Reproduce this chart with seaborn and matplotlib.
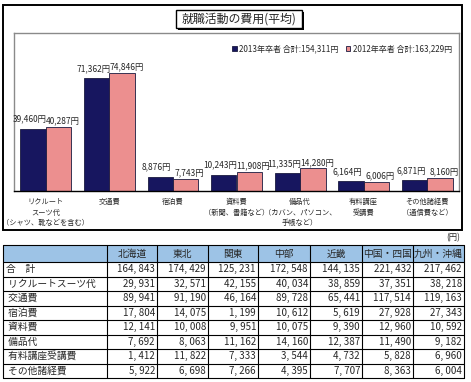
import numpy as np
import pandas as pd
import matplotlib
matplotlib.use("Agg")
import matplotlib.pyplot as plt
from matplotlib.patches import Rectangle
import seaborn as sns

# chart data
categories = [
    "リクルート\nスーツ代\n（シャツ、靴などを含む）",
    "交通費",
    "宿泊費",
    "資料費\n（新聞、書籍など）",
    "備品代\n（カバン、パソコン、\n手帳など）",
    "有料講座\n受講費",
    "その他諸経費\n（通信費など）",
]
years = ["2013年卒者 合計:154,311円", "2012年卒者 合計:163,229円"]
cost_2013 = [39460, 71362, 8876, 10243, 11335, 6164, 6871]
cost_2012 = [40287, 74846, 7743, 11908, 14280, 6006, 8160]

# table data
regions = ["北海道", "東北", "関東", "中部", "近畿", "中国・四国", "九州・沖縄"]
row_labels = ["合　計", " リクルートスーツ代", " 交通費", " 宿泊費", " 資料費",
              " 備品代", " 有料講座受講費", " その他諸経費"]
row_total = [164843, 174429, 125231, 172548, 144135, 221432, 217462]
row_suit = [29931, 32571, 42155, 40034, 38859, 37351, 38218]
row_transport = [89941, 91190, 46164, 89728, 65441, 117514, 119163]
row_lodging = [17804, 14075, 1199, 10612, 5619, 27928, 27343]
row_materials = [12141, 10008, 9951, 10075, 9390, 12960, 10592]
row_supplies = [7692, 8063, 11162, 14160, 12387, 11490, 9182]
row_courses = [1412, 11822, 7333, 3544, 4732, 5828, 6960]
row_other = [5922, 6698, 7266, 4395, 7707, 8363, 6004]
table_rows = [row_total, row_suit, row_transport, row_lodging,
              row_materials, row_supplies, row_courses, row_other]

NAVY = "#0b0a6b"
PINK = "#fb8080"
HEADER_BLUE = "#9dc3e6"

sns.set_style("white")
plt.rcParams["font.family"] = ["Noto Sans CJK JP", "DejaVu Sans"]

W, H = 471, 382
fig = plt.figure(figsize=(W / 100, H / 100), dpi=100)

# background layer in pixel coords
bg = fig.add_axes([0, 0, 1, 1])
bg.set_xlim(0, W)
bg.set_ylim(H, 0)
bg.axis("off")

# outer chart frame
bg.add_patch(Rectangle((3, 5), 459, 225, fill=False, ec="black", lw=1.4))
# title box with shadow
bg.add_patch(Rectangle((178, 12), 126, 18, fc="black", ec="black", lw=0))
bg.add_patch(Rectangle((176, 10), 126, 18, fc="white", ec="black", lw=1.0))
bg.text(239, 19.5, "就職活動の費用(平均)", ha="center", va="center", fontsize=8.6)

# bar chart
ax = fig.add_axes([14 / W, 1 - 191 / H, 445 / W, 158 / H])
df = pd.DataFrame({
    "category": categories * 2,
    "year": [years[0]] * len(categories) + [years[1]] * len(categories),
    "cost": cost_2013 + cost_2012,
})
sns.barplot(data=df, x="category", y="cost", hue="year", palette=[NAVY, PINK],
            errorbar=None, edgecolor="#1a1a40", linewidth=0.6, ax=ax)
ax.set_xlim(-0.5, len(categories) - 0.5)
ax.set_ylim(0, 100000)
ax.set_yticks([])
ax.set_xlabel("")
ax.set_ylabel("")
ax.tick_params(axis="x", length=0, pad=5)
for lbl in ax.get_xticklabels():
    lbl.set_fontsize(5.2)
    lbl.set_linespacing(1.45)
for side in ["left", "top", "right"]:
    ax.spines[side].set_color("#8a8a8a")
    ax.spines[side].set_linewidth(1.0)
ax.spines["bottom"].set_color("black")
ax.spines["bottom"].set_linewidth(1.0)

offsets = [(-2.5, 7.0), (3.0, 4.4)]
for cont, (dx, dy) in zip(ax.containers, offsets):
    for bar in cont:
        h = bar.get_height()
        ax.annotate(f"{int(h):,}円", (bar.get_x() + bar.get_width() / 2, h),
                    xytext=(dx, dy), textcoords="offset points",
                    ha="center", va="center", fontsize=6)

handles, labels = ax.get_legend_handles_labels()
ax.legend_.remove()
fig.legend(handles, labels, loc="center right", bbox_to_anchor=(452 / W, 1 - 49 / H),
           ncol=2, frameon=False, fontsize=5.8, handlelength=0.6, handleheight=0.6,
           handletextpad=0.3, columnspacing=0.9, borderaxespad=0, borderpad=0)

# table
bg.text(453, 238, "(円)", ha="center", va="center", fontsize=6)
col_edges = [3, 107, 157, 208, 258, 310, 362, 413, 464]
top, head_h, row_h = 245, 17, 14.5
bottom = top + head_h + row_h * len(table_rows)
bg.add_patch(Rectangle((col_edges[0], top), col_edges[-1] - col_edges[0], head_h,
                       fc=HEADER_BLUE, ec="none"))
for x in col_edges:
    bg.plot([x, x], [top, bottom], color="black", lw=0.8)
ys = [top, top + head_h] + [top + head_h + row_h * (i + 1) for i in range(len(table_rows))]
for y in ys:
    bg.plot([col_edges[0], col_edges[-1]], [y, y], color="black", lw=0.8)

for j, reg in enumerate(regions):
    bg.text((col_edges[j + 1] + col_edges[j + 2]) / 2, top + head_h / 2, reg,
            ha="center", va="center", fontsize=7)
for i, (lab, vals) in enumerate(zip(row_labels, table_rows)):
    yc = top + head_h + row_h * (i + 0.5)
    bg.text(col_edges[0] + 3, yc, lab, ha="left", va="center", fontsize=7)
    for j, v in enumerate(vals):
        bg.text(col_edges[j + 2] - 2, yc, f"{v:,}".replace(",", ", "),
                ha="right", va="center", fontsize=7)

fig.savefig("out.png", dpi=100)
